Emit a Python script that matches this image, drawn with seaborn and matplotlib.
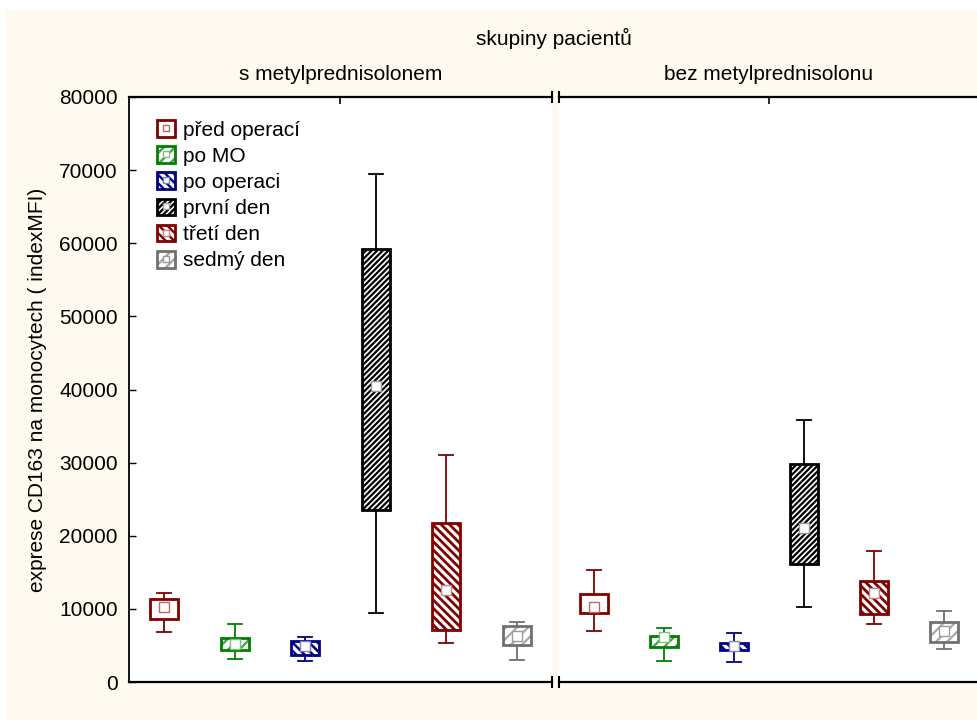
import numpy as np
import pandas as pd
import matplotlib
matplotlib.use("Agg")
import matplotlib.pyplot as plt
from matplotlib.patches import Rectangle
from matplotlib.lines import Line2D
from matplotlib.colors import to_rgba
import seaborn as sns

# ---- data -------------------------------------------------------------
groups = ["s metylprednisolonem", "bez metylprednisolonu"]
phases = ["před operací", "po MO", "po operaci", "první den", "třetí den", "sedmý den"]

# with methylprednisolone
s_mp_whisker_low = [6850, 3150, 2900, 9450, 5350, 3000]
s_mp_box_low = [8600, 4400, 3700, 23500, 7100, 5050]
s_mp_centre = [10250, 5200, 4900, 40500, 12600, 6350]
s_mp_box_high = [11350, 6050, 5600, 59200, 21750, 7650]
s_mp_whisker_high = [12150, 7950, 6200, 69450, 31050, 8250]

# without methylprednisolone
bez_mp_whisker_low = [6950, 2850, 2750, 10250, 7950, 4550]
bez_mp_box_low = [9450, 4850, 4400, 16200, 9300, 5450]
bez_mp_centre = [10300, 6100, 4900, 21000, 12150, 7000]
bez_mp_box_high = [12100, 6350, 5400, 29800, 13800, 8250]
bez_mp_whisker_high = [15300, 7450, 6750, 35850, 17900, 9700]

yticks = [0, 10000, 20000, 30000, 40000, 50000, 60000, 70000, 80000]

title = "skupiny pacientů"
ylabel = "exprese CD163 na monocytech ( indexMFI)"

# Five summary values per box: with whiskers spanning min..max, the
# quartiles of these five numbers are exactly the box edges.
stats = {
    groups[0]: (s_mp_whisker_low, s_mp_box_low, s_mp_centre, s_mp_box_high, s_mp_whisker_high),
    groups[1]: (bez_mp_whisker_low, bez_mp_box_low, bez_mp_centre, bez_mp_box_high, bez_mp_whisker_high),
}
rows, centre_rows = [], []
for g in groups:
    wl, bl, c, bh, wh = stats[g]
    for i, ph in enumerate(phases):
        for v in (wl[i], bl[i], c[i], bh[i], wh[i]):
            rows.append({"group": g, "phase": ph, "value": v})
        centre_rows.append({"group": g, "phase": ph, "centre": c[i]})
df = pd.DataFrame(rows)
centres = pd.DataFrame(centre_rows)

# ---- style ------------------------------------------------------------
plt.rcParams["font.family"] = ["Liberation Sans", "DejaVu Sans"]
plt.rcParams["hatch.linewidth"] = 1.7
FS = 15
cream = "#fffaf0"

line_colors = ["#800000", "#008000", "#000080", "#000000", "#800000", "#707070"]
hatches = [None, "///", "\\\\\\\\", "//////", "\\\\\\\\", "///"]
hatch_colors = [None, "#46a046", "#000080", "#000000", "#800000", "#a8a8a8"]
hatch_widths = [1.0, 1.6, 1.8, 1.6, 2.0, 1.6]
marker_edges = ["#b86a6a", "#7fbf7f", "#8080c0", "#9a9a9a", "#c08a8a", "#9a9a9a"]


def style_box(patch, i):
    patch.set_facecolor("white")
    patch.set_edgecolor(line_colors[i])
    patch.set_linewidth(2.0)
    if hatches[i]:
        patch.set_hatch(hatches[i])
        patch._hatch_color = to_rgba(hatch_colors[i])
        if hasattr(patch, "set_hatch_linewidth"):
            patch.set_hatch_linewidth(hatch_widths[i])


fig = plt.figure(figsize=(9.78, 7.2), dpi=100, facecolor="white")
fig.add_artist(Rectangle((6 / 978, 0), 1, 1 - 10 / 720, transform=fig.transFigure,
                         facecolor=cream, edgecolor="none", zorder=-10))

ax_left = fig.add_axes([129 / 978, 38 / 720, 423 / 978, 585 / 720])
ax_right = fig.add_axes([559 / 978, 38 / 720, 420 / 978, 585 / 720])

for g, ax in zip(groups, (ax_left, ax_right)):
    ax.set_facecolor("white")
    for i, ph in enumerate(phases):
        n_patches = len(ax.patches)
        sub = df[(df.group == g) & (df.phase == ph)]
        sns.boxplot(data=sub, x="phase", y="value", order=phases, color="white",
                    linecolor=line_colors[i], linewidth=1.3, width=0.4,
                    whis=(0, 100), fliersize=0, medianprops={"linewidth": 0},
                    ax=ax)
        for p in ax.patches[n_patches:]:
            style_box(p, i)
        csub = centres[(centres.group == g) & (centres.phase == ph)]
        sns.pointplot(data=csub, x="phase", y="centre", order=phases,
                      color=marker_edges[i], errorbar=None, marker="s",
                      linestyle="none", markersize=6.5, markerfacecolor="white",
                      markeredgecolor=marker_edges[i], markeredgewidth=1.0,
                      zorder=6, ax=ax)

    ax.set_xlim(-0.5, 5.5)
    ax.set_ylim(0, 80000)
    ax.set_xlabel("")
    ax.set_ylabel("")
    ax.grid(False)
    # centre tick on top, break marks at the inner ends of the panels
    ax.set_xticks([2.5])
    ax.set_xticklabels([])
    ax.tick_params(axis="x", which="major", bottom=False, top=True, direction="in",
                   length=5, width=1.2, labelbottom=False, labeltop=False)
    for s in ("top", "bottom"):
        ax.spines[s].set_linewidth(1.6)
        ax.spines[s].set_color("black")
    ax.spines["right"].set_visible(False)

ax_left.set_xticks([5.5], minor=True)
ax_right.set_xticks([-0.5], minor=True)
for ax in (ax_left, ax_right):
    ax.tick_params(axis="x", which="minor", bottom=True, top=True, direction="inout",
                   length=9, width=1.5)

ax_left.spines["left"].set_linewidth(1.3)
ax_left.set_yticks(yticks)
ax_left.set_yticklabels([str(t) for t in yticks], fontsize=FS)
ax_left.tick_params(axis="y", direction="in", length=5, width=1.0, pad=8)
ax_left.set_ylabel(ylabel, fontsize=FS, labelpad=9)

ax_right.spines["left"].set_visible(False)
ax_right.set_yticks([])

# legend: miniature boxes with the centre marker
handles = []
for i in range(len(phases)):
    h = Rectangle((0, 0), 1, 1, facecolor="white", edgecolor=line_colors[i], linewidth=2.0)
    style_box(h, i)
    m = Line2D([], [], marker="s", linestyle="none", markersize=5,
               markerfacecolor="white", markeredgecolor=marker_edges[i], markeredgewidth=1.0)
    handles.append((h, m))
ax_left.legend(handles, phases, loc="upper left",
               bbox_to_anchor=((157 - 129) / 423, 1 - (120 - 97) / 585),
               frameon=False, fontsize=FS, borderpad=0, borderaxespad=0,
               handlelength=0.85, handleheight=0.85, handletextpad=0.4,
               labelspacing=0.32)

# headers
fig.text((129 + 979) / 2 / 978, 1 - 38 / 720, title, ha="center", va="center", fontsize=FS)
fig.text((129 + 552) / 2 / 978, 1 - 74 / 720, groups[0], ha="center", va="center", fontsize=FS)
fig.text((559 + 979) / 2 / 978, 1 - 74 / 720, groups[1], ha="center", va="center", fontsize=FS)

fig.savefig("out.png", dpi=100, facecolor=fig.get_facecolor())
